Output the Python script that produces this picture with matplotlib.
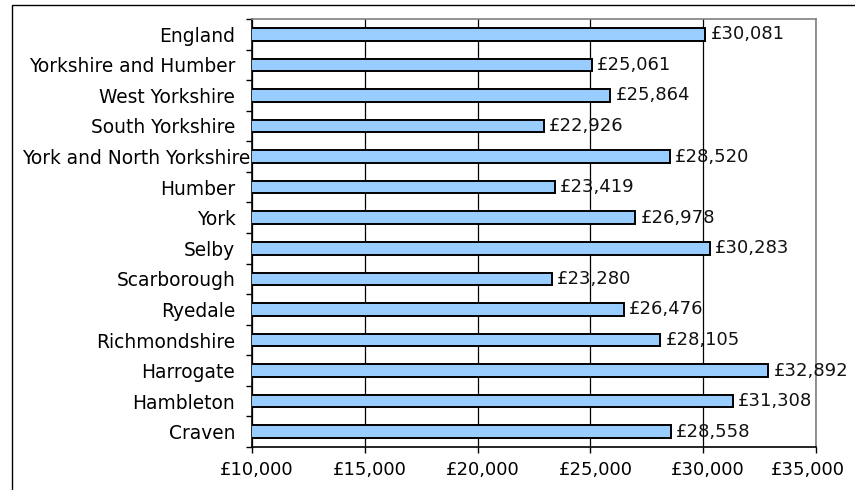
import matplotlib.pyplot as plt
from matplotlib.patches import Rectangle
from matplotlib.transforms import ScaledTranslation

# data, top to bottom as in the chart
areas = ['England', 'Yorkshire and Humber', 'West Yorkshire', 'South Yorkshire',
         'York and North Yorkshire', 'Humber', 'York', 'Selby', 'Scarborough',
         'Ryedale', 'Richmondshire', 'Harrogate', 'Hambleton', 'Craven']
earnings = [30081, 25061, 25864, 22926, 28520, 23419, 26978, 30283, 23280,
            26476, 28105, 32892, 31308, 28558]
xticks = [10000, 15000, 20000, 25000, 30000, 35000]

FS = 13
W, H = 855, 490
fig = plt.figure(figsize=(W / 100, H / 100), dpi=100)
ax = fig.add_axes([252 / W, 1 - 447 / H, (816 - 252) / W, (447 - 19) / H])

# outer chart frame (cut off at right and bottom)
fig.patches.append(Rectangle((12 / W, -0.1), 2, 1 - 5 / H + 0.1, transform=fig.transFigure,
                             fill=False, edgecolor='black', linewidth=1.0))

n = len(areas)
ypos = list(range(n))[::-1]
ax.barh(ypos, earnings, height=0.41, left=0, color='#99CCFF', edgecolor='black',
        linewidth=1.4, zorder=3)

for y, v in zip(ypos, earnings):
    ax.annotate('£{:,}'.format(v), (v, y), xytext=(4, 0), textcoords='offset points',
                va='center', ha='left', fontsize=FS, color='#111111', zorder=4)

ax.set_xlim(10000, 35000)
ax.set_ylim(-0.5, n - 0.5)
ax.set_xticks(xticks)
ax.set_xticklabels(['£{:,}'.format(t) for t in xticks], fontsize=FS)
ax.set_yticks(ypos)
ax.set_yticklabels(areas, fontsize=13.4)
ax.tick_params(axis='y', length=0, pad=12)
ax.tick_params(axis='x', length=4, width=1, direction='out', pad=6)
ax.set_yticks([i - 0.5 for i in range(n + 1)], minor=True)
ax.tick_params(axis='y', which='minor', length=4, width=1, direction='out')

# the long label sits closer to the axis so it stays inside the frame
ax.yaxis.get_major_ticks()[areas.index('York and North Yorkshire')].set_pad(1)

# x labels sit a little right of their ticks, the last one is pulled back in
for i, lab in enumerate(ax.get_xticklabels()):
    dx = -8.5 if i == len(xticks) - 1 else 5
    lab.set_transform(lab.get_transform() + ScaledTranslation(dx / 100, 0, fig.dpi_scale_trans))

ax.xaxis.grid(True, color='black', linewidth=0.9, zorder=0)
ax.set_axisbelow(True)
for s in ['top', 'right']:
    ax.spines[s].set_color('#808080')
    ax.spines[s].set_linewidth(1.2)
for s in ['left', 'bottom']:
    ax.spines[s].set_color('black')
    ax.spines[s].set_linewidth(1.2)

fig.savefig('out.png', dpi=100)
